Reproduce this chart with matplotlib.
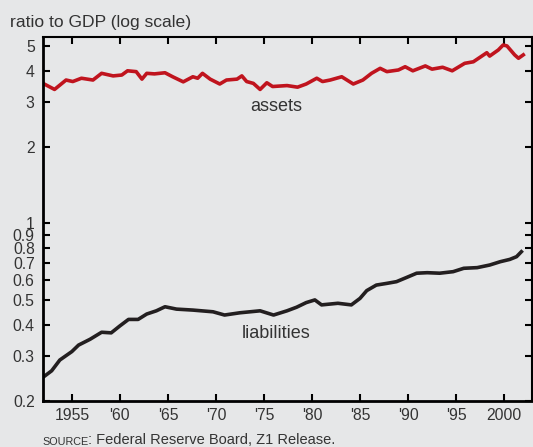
import matplotlib.pyplot as plt

plt.rcParams['font.family'] = ['Liberation Sans', 'DejaVu Sans']

# ratio to GDP
asset_years = [1952.0, 1953.2, 1954.4, 1955.1, 1956.0, 1957.2, 1958.1, 1959.3, 1960.2, 1960.8,
               1961.7, 1962.3, 1962.8, 1963.6, 1964.7, 1965.5, 1966.6, 1967.6, 1968.1, 1968.6,
               1969.4, 1970.4, 1971.1, 1972.2, 1972.7, 1973.2, 1973.9, 1974.6, 1975.3, 1975.9,
               1977.4, 1978.5, 1979.4, 1980.5, 1981.1, 1981.9, 1983.1, 1984.3, 1985.3, 1986.2,
               1987.1, 1987.8, 1989.0, 1989.7, 1990.5, 1991.8, 1992.5, 1993.6, 1994.6, 1995.9,
               1996.8, 1998.2, 1998.5, 1999.4, 1999.9, 2000.3, 2001.1, 2001.5, 2002.0]
assets = [3.56, 3.37, 3.67, 3.62, 3.73, 3.67, 3.90, 3.81, 3.84, 3.99,
          3.96, 3.70, 3.90, 3.88, 3.92, 3.78, 3.61, 3.78, 3.73, 3.90,
          3.70, 3.54, 3.67, 3.70, 3.81, 3.62, 3.56, 3.37, 3.58, 3.46,
          3.49, 3.44, 3.54, 3.73, 3.62, 3.67, 3.78, 3.54, 3.67, 3.90,
          4.08, 3.96, 4.02, 4.14, 3.99, 4.17, 4.05, 4.12, 3.99, 4.27,
          4.33, 4.70, 4.56, 4.82, 5.04, 5.00, 4.61, 4.47, 4.61]

liab_years = [1952.0, 1952.9, 1953.75, 1955.0, 1955.7, 1956.9, 1958.1, 1959.1, 1960.0, 1960.9,
              1961.9, 1962.8, 1963.8, 1964.7, 1965.9, 1967.6, 1969.7, 1970.9, 1972.5, 1974.6,
              1976.0, 1977.4, 1978.4, 1979.4, 1980.3, 1981.0, 1982.7, 1984.1, 1985.0, 1985.7,
              1986.7, 1987.8, 1988.8, 1989.9, 1990.9, 1992.0, 1993.3, 1994.7, 1995.8, 1997.2,
              1998.5, 1999.6, 2000.6, 2001.3, 2001.8]
liabilities = [0.248, 0.263, 0.290, 0.313, 0.332, 0.350, 0.373, 0.371, 0.395, 0.419,
               0.419, 0.440, 0.453, 0.470, 0.460, 0.456, 0.449, 0.436, 0.445, 0.453,
               0.436, 0.453, 0.468, 0.488, 0.500, 0.478, 0.485, 0.478, 0.507, 0.544,
               0.572, 0.581, 0.590, 0.614, 0.637, 0.640, 0.637, 0.646, 0.666, 0.670,
               0.686, 0.707, 0.722, 0.740, 0.774]

x_ticks = [1955, 1960, 1965, 1970, 1975, 1980, 1985, 1990, 1995, 2000]
x_labels = ['1955', "'60", "'65", "'70", "'75", "'80", "'85", "'90", "'95", '2000']
y_ticks = [0.2, 0.3, 0.4, 0.5, 0.6, 0.7, 0.8, 0.9, 1, 2, 3, 4, 5]
y_labels = ['0.2', '0.3', '0.4', '0.5', '0.6', '0.7', '0.8', '0.9', '1', '2', '3', '4', '5']

bg = '#e6e7e8'
txt = '#333333'

fig = plt.figure(figsize=(5.33, 4.47), dpi=100, facecolor=bg)
ax = fig.add_axes([0.0807, 0.1029, 0.9173, 0.8143])
ax.set_facecolor(bg)

ax.plot(asset_years, assets, color='#c0141e', lw=2.6, solid_joinstyle='round')
ax.plot(liab_years, liabilities, color='#231f20', lw=2.6, solid_joinstyle='round')

ax.set_yscale('log')
ax.set_ylim(0.2, 5.42)
ax.set_xlim(1952.0, 2002.9)
ax.set_yticks(y_ticks)
ax.set_yticklabels(y_labels)
ax.minorticks_off()
ax.set_xticks(x_ticks)
ax.set_xticklabels(x_labels)

ax.tick_params(direction='in', length=5, width=1.5, colors='black', labelcolor=txt,
               labelsize=11.3, top=True, right=True, pad=5)
ax.tick_params(axis='y', pad=6)
for s in ['left', 'bottom']:
    ax.spines[s].set_linewidth(2)
for s in ['top', 'right']:
    ax.spines[s].set_linewidth(1.5)

ax.text(1976.3, 2.9, 'assets', ha='center', va='center', fontsize=13, color=txt)
ax.text(1976.3, 0.37, 'liabilities', ha='center', va='center', fontsize=13, color=txt)

fig.text(10 / 533, 1 - 27 / 447, 'ratio to GDP (log scale)', ha='left', va='baseline',
         fontsize=12.6, color=txt)

src = fig.text(42 / 533, 1 - 445 / 447, 'SOURCE', ha='left', va='baseline', fontsize=7.8, color=txt)
ax.annotate(': Federal Reserve Board, Z1 Release.', xy=(1, 0), xycoords=src,
            ha='left', va='bottom', fontsize=10.5, color=txt)

fig.savefig('out.png', dpi=100, facecolor=bg)
